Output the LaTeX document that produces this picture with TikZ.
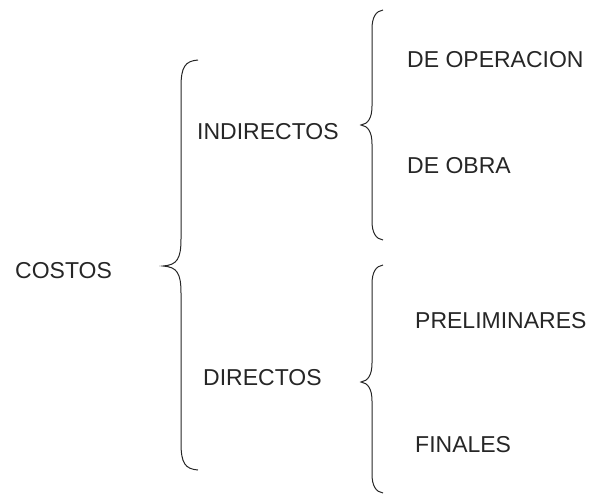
\documentclass[tikz,border=0pt]{standalone}
\usepackage{fontspec}
\setmainfont{Liberation Sans}
\newcommand{\labelfont}{\fontsize{23}{27}\selectfont}
\tikzset{bracestyle/.style={draw=black!85,line width=1pt}}
\begin{document}
\begin{tikzpicture}
  [x=1pt,y=-1pt,every node/.style={anchor=base west,inner sep=0pt,text=black!85,font=\labelfont}]
  \useasboundingbox (0,0) rectangle (589,496);
  \node (costos)     at (15,278)  {COSTOS};
  \node (indirectos) at (197,139) {INDIRECTOS};
  \node (directos)   at (203,385) {DIRECTOS};
  \node (operacion)  at (407,67)  {DE OPERACION};
  \node (obra)       at (407,173) {DE OBRA};
  \node (prelim)     at (415,328) {PRELIMINARES};
  \node (finales)    at (415,452) {FINALES};

  % braces: tip x / vertical x / end x / tip y / top y / bottom y / curve length
  \foreach \tx/\vx/\ex/\ty/\ta/\tb/\cl in {163/181/198/266/60/470/27,
                                            361/372/383/125/10/240/19,
                                            361/372/383/382/265/493/19}
    \draw[bracestyle] (\ex,\ta) .. controls (\vx+4,\ta+1) and (\vx,\ta+7) .. (\vx,\ta+\cl)
      -- (\vx,\ty-\cl) .. controls (\vx,\ty-7) and (\vx-4,\ty-1) .. (\tx,\ty)
      .. controls (\vx-4,\ty+1) and (\vx,\ty+7) .. (\vx,\ty+\cl)
      -- (\vx,\tb-\cl) .. controls (\vx,\tb-7) and (\vx+4,\tb-1) .. (\ex,\tb);

\end{tikzpicture}
\end{document}
